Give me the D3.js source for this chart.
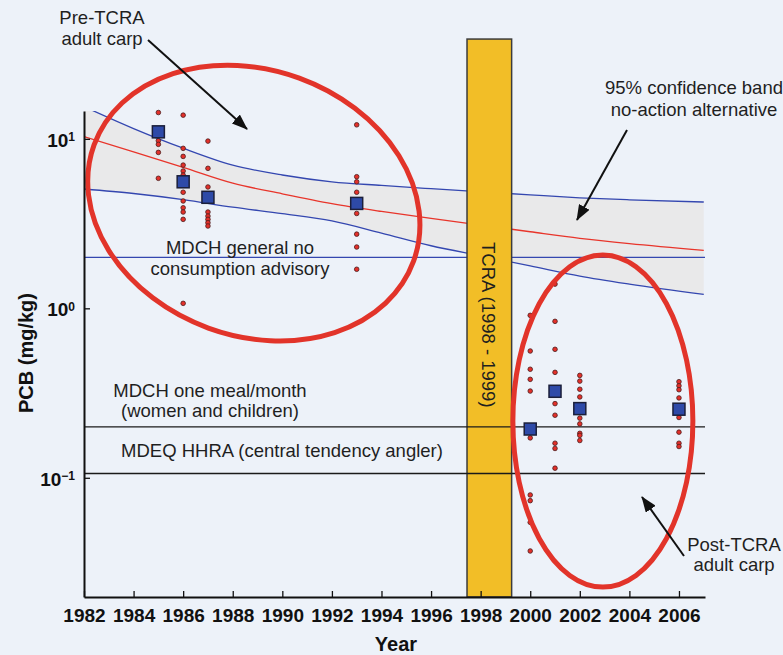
<!DOCTYPE html>
<html>
<head>
<meta charset="utf-8">
<script src="https://cdn.jsdelivr.net/npm/d3@7"></script>
<style>
  body { margin: 0; background: #edf2f9; }
  svg { display: block; font-family: "Liberation Sans", Arial, Helvetica, sans-serif; }
  .note { font-size: 18.5px; fill: #1f1f1f; }
  .tick text { font-size: 19px; font-weight: bold; fill: #111; }
  .axis-title { font-size: 20px; font-weight: bold; fill: #111; }
</style>
</head>
<body>
<div id="chart"></div>
<script>
// values (PCB in mg/kg)
const bandYears = [1982, 1984, 1986, 1988, 1990, 1992, 1994, 1996, 1998, 2000, 2002, 2004, 2007];
const fitLine   = [10.3, 8.38, 6.79, 5.48, 4.74, 4.15, 3.73, 3.39, 3.10, 2.83, 2.59, 2.41, 2.20];
const upperBand = [15.5, 11.5, 8.81, 7.0, 6.12, 5.58, 5.31, 5.08, 4.87, 4.67, 4.49, 4.37, 4.24];
const lowerBand = [5.06, 4.76, 4.38, 3.95, 3.62, 3.28, 2.78, 2.34, 2.04, 1.78, 1.55, 1.39, 1.21];

const sampleYears = [1985, 1986, 1987, 1993, 2000, 2001, 2002, 2006];
const samples = [
  [14.3, 9.75, 9.28, 8.32, 5.85],
  [13.8, 8.79, 7.88, 7.0, 6.46, 6.11, 4.84, 4.30, 3.92, 3.70, 3.35, 1.07],
  [9.70, 6.70, 5.20, 3.70, 3.50, 3.35, 3.20, 3.06],
  [12.1, 5.98, 5.58, 4.84, 3.63, 2.74, 2.30, 1.70],
  [0.909, 0.560, 0.437, 0.381, 0.325, 0.172, 0.0792, 0.0733, 0.0546, 0.037],
  [1.39, 0.838, 0.573, 0.419, 0.274, 0.234, 0.160, 0.149, 0.114],
  [0.402, 0.372, 0.333, 0.300, 0.225, 0.208, 0.183, 0.178, 0.166],
  [0.369, 0.349, 0.331, 0.296, 0.227, 0.186, 0.160, 0.153]
];
const sampleMeans = [11.0, 5.58, 4.52, 4.16, 0.194, 0.324, 0.256, 0.254];

const advisoryGeneral = 2.0;     // MDCH general no consumption
const advisoryMeal = 0.2;        // MDCH one meal/month
const advisoryHHRA = 0.106;      // MDEQ HHRA
const tcraPeriod = [1997.45, 1999.25];

const xTicks = [1982, 1984, 1986, 1988, 1990, 1992, 1994, 1996, 1998, 2000, 2002, 2004, 2006];
const yTicks = [0.1, 1, 10];

// SVG + scales
const W = 783, H = 655;
const svg = d3.select("#chart").append("svg").attr("width", W).attr("height", H);
svg.append("rect").attr("width", W).attr("height", H).attr("fill", "#edf2f9");

const x = d3.scaleLinear().domain([1982, 2007.05]).range([84, 705]);
const y = d3.scaleLog().domain([0.0198, 14.6]).range([597, 111]);

svg.append("clipPath").attr("id", "plot-clip")
  .append("rect")
  .attr("x", x.range()[0]).attr("y", y.range()[1])
  .attr("width", x.range()[1] - x.range()[0])
  .attr("height", y.range()[0] - y.range()[1]);

const plot = svg.append("g").attr("clip-path", "url(#plot-clip)");

// confidence band
const band = bandYears.map((yr, i) => ({ yr, fit: fitLine[i], lo: lowerBand[i], hi: upperBand[i] }));

plot.append("path")
  .datum(band)
  .attr("fill", "#e9e9ea")
  .attr("d", d3.area().curve(d3.curveMonotoneX)
    .x(d => x(d.yr)).y0(d => y(d.lo)).y1(d => y(d.hi)));

["lo", "hi"].forEach(k => {
  plot.append("path")
    .datum(band)
    .attr("fill", "none")
    .attr("stroke", "#3447b0")
    .attr("stroke-width", 1.3)
    .attr("d", d3.line().curve(d3.curveMonotoneX).x(d => x(d.yr)).y(d => y(d[k])));
});

// general advisory line (blue)
svg.append("line")
  .attr("x1", x.range()[0]).attr("x2", x.range()[1])
  .attr("y1", y(advisoryGeneral)).attr("y2", y(advisoryGeneral))
  .attr("stroke", "#3447b0").attr("stroke-width", 1.2);

// TCRA bar
svg.append("rect")
  .attr("x", x(tcraPeriod[0]))
  .attr("width", x(tcraPeriod[1]) - x(tcraPeriod[0]))
  .attr("y", y(38.8))
  .attr("height", y.range()[0] - y(38.8))
  .attr("fill", "#f2be27")
  .attr("stroke", "#3c3c3c")
  .attr("stroke-width", 1.5);

svg.append("text")
  .attr("class", "note")
  .attr("transform", `translate(${x(tcraPeriod[0]) + 14.5},242) rotate(90)`)
  .text("TCRA (1998 - 1999)");

// fitted line (red), drawn over the bar
plot.append("path")
  .datum(band)
  .attr("fill", "none")
  .attr("stroke", "#e8352b")
  .attr("stroke-width", 1.3)
  .attr("d", d3.line().curve(d3.curveMonotoneX).x(d => x(d.yr)).y(d => y(d.fit)));

// black advisory lines
[advisoryMeal, advisoryHHRA].forEach(v => {
  svg.append("line")
    .attr("x1", x.range()[0]).attr("x2", x.range()[1])
    .attr("y1", y(v)).attr("y2", y(v))
    .attr("stroke", "#1a1a1a").attr("stroke-width", 1.3);
});

// sample points
const flat = [];
sampleYears.forEach((yr, i) => samples[i].forEach(v => flat.push({ yr, v })));

svg.selectAll(".sample")
  .data(flat)
  .enter()
  .append("circle")
  .attr("class", "sample")
  .attr("cx", d => x(d.yr))
  .attr("cy", d => y(d.v))
  .attr("r", 2.3)
  .attr("fill", "#e3302a")
  .attr("stroke", "#4a1d1d")
  .attr("stroke-width", 0.8);

const sq = 12;
svg.selectAll(".mean")
  .data(sampleYears.map((yr, i) => ({ yr, v: sampleMeans[i] })))
  .enter()
  .append("rect")
  .attr("class", "mean")
  .attr("x", d => x(d.yr) - sq / 2)
  .attr("y", d => y(d.v) - sq / 2)
  .attr("width", sq).attr("height", sq)
  .attr("fill", "#2e4aa8")
  .attr("stroke", "#1b1f3a")
  .attr("stroke-width", 1.5);

// ellipses around the two groups
svg.append("ellipse")
  .attr("transform", `translate(${x(1988.85)},${y(4.18)}) rotate(20)`)
  .attr("rx", 170).attr("ry", 133)
  .attr("fill", "none").attr("stroke", "#e2342a").attr("stroke-width", 5);

svg.append("ellipse")
  .attr("transform", `translate(${x(2002.93)},${y(0.216)})`)
  .attr("rx", 90).attr("ry", 166)
  .attr("fill", "none").attr("stroke", "#e2342a").attr("stroke-width", 5);

// arrows
svg.append("defs").append("marker")
  .attr("id", "arrow")
  .attr("markerUnits", "userSpaceOnUse")
  .attr("markerWidth", 16).attr("markerHeight", 12)
  .attr("refX", 15).attr("refY", 6)
  .attr("orient", "auto")
  .append("path")
  .attr("d", "M0,0 L16,6 L0,12 Z")
  .attr("fill", "#111");

const arrows = [
  [148, 40, 247, 129],
  [627, 130, 577, 220],
  [684, 556, 642, 497]
];
arrows.forEach(a => {
  svg.append("line")
    .attr("x1", a[0]).attr("y1", a[1]).attr("x2", a[2]).attr("y2", a[3])
    .attr("stroke", "#111").attr("stroke-width", 2)
    .attr("marker-end", "url(#arrow)");
});

// annotation text
function note(lines, cx, y0, gap) {
  const t = svg.append("text").attr("class", "note").attr("text-anchor", "middle");
  lines.forEach((s, i) => t.append("tspan").attr("x", cx).attr("y", y0 + i * gap).text(s));
}
note(["Pre-TCRA", "adult carp"], 102, 24, 21);
note(["95% confidence band", "no-action alternative"], 694, 94, 22);
note(["MDCH general no", "consumption advisory"], 240, 254, 21);
note(["MDCH one meal/month", "(women and children)"], 210, 397, 20);
note(["MDEQ HHRA (central tendency angler)"], 282, 457, 0);
note(["Post-TCRA", "adult carp"], 734, 551, 20);

// axes
const xAxis = svg.append("g")
  .attr("transform", `translate(0,${y.range()[0]})`)
  .call(d3.axisBottom(x).tickValues(xTicks).tickFormat(d3.format("d"))
    .tickSize(-6).tickSizeOuter(0).tickPadding(12));

const yAxis = svg.append("g")
  .attr("transform", `translate(${x.range()[0]},0)`)
  .call(d3.axisLeft(y).tickValues(yTicks)
    .tickSize(-6).tickSizeOuter(0).tickPadding(9));

yAxis.selectAll(".tick text").each(function(d) {
  const t = d3.select(this).text("").attr("dy", "0.4em");
  const e = Math.round(Math.log10(d));
  t.append("tspan").text("10");
  t.append("tspan").attr("dy", "-0.48em").attr("font-size", "12px")
    .text(e < 0 ? "\u2212" + Math.abs(e) : e);
});

[xAxis, yAxis].forEach(g => {
  g.select(".domain").attr("stroke", "#111").attr("stroke-width", 2);
  g.selectAll(".tick line").attr("stroke", "#111").attr("stroke-width", 1.3);
});

svg.append("text")
  .attr("class", "axis-title")
  .attr("x", 396).attr("y", 651)
  .attr("text-anchor", "middle")
  .text("Year");

svg.append("text")
  .attr("class", "axis-title")
  .attr("transform", "translate(33,353) rotate(-90)")
  .attr("text-anchor", "middle")
  .text("PCB (mg/kg)");
</script>
</body>
</html>
